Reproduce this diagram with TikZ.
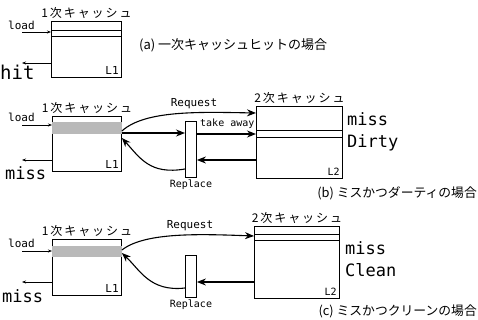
\documentclass[tikz,border=0pt]{standalone}
\usepackage{fontspec}
\setmainfont{Noto Sans CJK JP}
\newfontfamily\latinmono{DejaVu Sans Mono}
\newfontfamily\jpwide[LetterSpace=16]{Noto Sans CJK JP}
\usetikzlibrary{positioning, arrows.meta}

\tikzset{
  cache/.style={draw, line width=0.9pt, fill=white, inner sep=0pt, anchor=north west},
  bar/.style={draw, line width=0.9pt, fill=white, inner sep=0pt, minimum width=11pt, minimum height=#1},
  thin/.style={line width=0.6pt, -{Stealth[length=4pt,width=3pt]}},
  thick/.style={line width=1.1pt, -{Stealth[length=9pt,width=7pt]}},
  jp/.style={font=\jpwide\fontsize{12}{12}\selectfont, inner sep=1pt},
  cap/.style={font=\fontsize{#1}{#1}\selectfont, inner sep=0pt},
  lt/.style={font=\latinmono\fontsize{#1}{#1}\selectfont, inner sep=0pt},
  lt/.default=11
}

\begin{document}
\begin{tikzpicture}[x=1pt, y=-1pt]
  \useasboundingbox (0,0) rectangle (478,320);

  \node[cache, minimum width=70pt, minimum height=56pt] (l1a) at (51,21) {};
  \draw[line width=0.9pt] (l1a.west |- 0,30) -- (l1a.east |- 0,30)
                          (l1a.west |- 0,36) -- (l1a.east |- 0,36);
  \node[jp, above=1pt of l1a] (l1atit) {1次キャッシュ};
  \node[lt, anchor=south east] (l1alab) at ([shift={(-3,-3)}]l1a.south east) {L1};
  \node[lt, anchor=west] (lda) at (8,25) {load};
  \coordinate (ldafrom) at (22,32);
  \draw[thin] (ldafrom) -- (ldafrom -| l1a.west);
  \coordinate (hitto) at (22,63);
  \draw[thin] (hitto -| l1a.west) -- (hitto);
  \node[lt=19, anchor=west] (hit) at (0,72) {hit};
  \node[cap=13, anchor=west] (capa) at (139,45) {(a)\ 一次キャッシュヒットの場合};

  \node[cache, minimum width=69pt, minimum height=55pt] (l1b) at (52,116) {};
  \fill[gray!55] ([yshift=1pt]l1b.west |- 0,123) rectangle ([yshift=-1pt]l1b.east |- 0,133);
  \node[jp, above=1pt of l1b] (l1btit) {1次キャッシュ};
  \node[lt, anchor=south east] (l1blab) at ([shift={(-3,-3)}]l1b.south east) {L1};
  \node[lt, anchor=west] (ldb) at (8,117) {load};
  \coordinate (ldbfrom) at (22,125);
  \draw[thin] (ldbfrom) -- (ldbfrom -| l1b.west);
  \coordinate (missbto) at (22,160);
  \draw[thin] (missbto -| l1b.west) -- (missbto);
  \node[lt=17, anchor=west] (missb) at (5,173) {miss};

  \node[cache, minimum width=86pt, minimum height=72pt] (l2b) at (256,106) {};
  \draw[line width=0.9pt] (l2b.west |- 0,130) -- (l2b.east |- 0,130)
                          (l2b.west |- 0,137) -- (l2b.east |- 0,137);
  \node[jp, above=1pt of l2b] (l2btit) {2次キャッシュ};
  \node[lt=10, anchor=south east] (l2blab) at ([shift={(-3,-3)}]l2b.south east) {L2};
  \node[lt=17, anchor=west] (missb2) at (347,119) {miss};
  \node[lt=17, anchor=west] (dirty) at (347,143) {Dirty};

  \node[bar=56pt, anchor=north west] (barb) at (185,121) {};
  \node[lt=10, below=2pt of barb] (repb) {Replace};
  \node[lt=10, anchor=west] (tkb) at (200,124) {take away};
  \draw[thick] (l1b.east |- 0,131) .. controls (145,110) and (200,112) .. (l2b.west |- 0,113);
  \node[lt, anchor=south] (reqb) at (194,109) {Request};
  \draw[thick] (l1b.east |- 0,133) -- (barb.west |- 0,133);
  \draw[thick] (barb.east |- 0,134) -- (l2b.west |- 0,134);
  \draw[thick] (l2b.west |- 0,160) -- (barb.east |- 0,160);
  \draw[thick] (barb.west |- 0,169) .. controls (150,175) and (140,158) .. (l1b.east |- 0,138);
  \node[cap=12.8, anchor=east] (capb) at (477,193) {(b)\ ミスかつダーティの場合};

  \node[cache, minimum width=69pt, minimum height=56pt] (l1c) at (52,239) {};
  \fill[gray!55] ([yshift=1pt]l1c.west |- 0,247) rectangle ([yshift=-1pt]l1c.east |- 0,256);
  \node[jp, above=1pt of l1c] (l1ctit) {1次キャッシュ};
  \node[lt, anchor=south east] (l1clab) at ([shift={(-3,-3)}]l1c.south east) {L1};
  \node[lt, anchor=west] (ldc) at (8,243) {load};
  \coordinate (ldcfrom) at (22,251);
  \draw[thin] (ldcfrom) -- (ldcfrom -| l1c.west);
  \coordinate (missto) at (22,282);
  \draw[thin] (missto -| l1c.west) -- (missto);
  \node[lt=17, anchor=west] (missc) at (2,296) {miss};

  \node[cache, minimum width=85pt, minimum height=72pt] (l2c) at (254,226) {};
  \draw[line width=0.9pt] (l2c.west |- 0,234) -- (l2c.east |- 0,234)
                          (l2c.west |- 0,240) -- (l2c.east |- 0,240);
  \node[jp, above=1pt of l2c] (l2ctit) {2次キャッシュ};
  \node[lt=10, anchor=south east] (l2clab) at ([shift={(-3,-3)}]l2c.south east) {L2};
  \node[lt=17, anchor=west] (missc2) at (345,248) {miss};
  \node[lt=17, anchor=west] (clean) at (345,270) {Clean};

  \node[bar=42pt, anchor=north west] (barc) at (185,255) {};
  \node[lt=10, below=2pt of barc] (repc) {Replace};
  \draw[thick] (l1c.east |- 0,250) .. controls (145,232) and (200,234) .. (l2c.west |- 0,236);
  \node[lt, anchor=south] (reqc) at (190,231) {Request};
  \draw[thick] (l2c.west |- 0,282) -- (barc.east |- 0,282);
  \draw[thick] (barc.west |- 0,288) .. controls (150,292) and (140,270) .. (l1c.east |- 0,253);
  \node[cap=12.8, anchor=east] (capc) at (477,311) {(c)\ ミスかつクリーンの場合};
\end{tikzpicture}
\end{document}
